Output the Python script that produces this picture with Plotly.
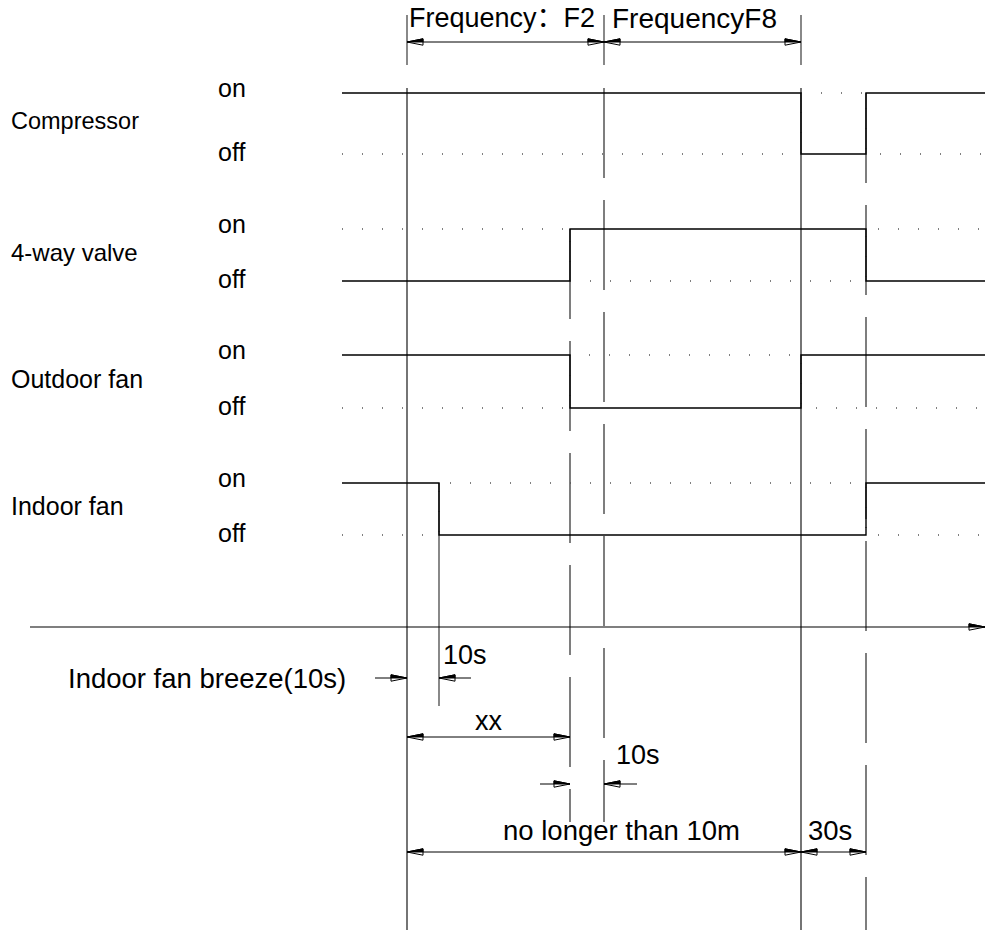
import plotly.graph_objects as go

# time axis: instants (drawing units) where something changes
t = [342, 407, 439, 570, 604, 801, 866, 985]
signals = ["Compressor", "4-way valve", "Outdoor fan", "Indoor fan"]
# state of each signal in the intervals between the instants above (1 = on)
compressor = [1, 1, 1, 1, 1, 0, 1]
valve = [0, 0, 0, 1, 1, 1, 0]
outdoor_fan = [1, 1, 1, 0, 0, 1, 1]
indoor_fan = [1, 1, 0, 0, 0, 0, 1]
states = [compressor, valve, outdoor_fan, indoor_fan]

# dimension annotations: (start index, end index, label)
freq_dims = [(1, 4, "Frequency：F2"), (4, 5, "FrequencyF8")]
run_dims = [(1, 5, "no longer than 10m"), (5, 6, "30s")]

# --- layout constants (pixels on a 991 x 930 sheet) ---
W, H = 991, 930
on_y = [93, 229, 355, 483]
off_y = [154, 281, 408, 535]
axis_y = 627
FONT = "Liberation Sans, Noto Sans CJK SC, Arial, sans-serif"
INK = "#000000"
GUIDE = "#3a3a3a"

fig = go.Figure()


def arrow(xtip, y, direction):
    # CAD style slender arrowhead: outline + upper half filled
    L, h = 16, 3.2
    xb = xtip - direction * L
    fig.add_trace(go.Scatter(x=[xtip, xb, xb, xtip], y=[y, y - h, y + h, y],
                             mode="lines", fill="toself", fillcolor="white",
                             line=dict(color=INK, width=1), hoverinfo="skip"))
    fig.add_trace(go.Scatter(x=[xtip, xb, xb, xtip], y=[y, y - h, y, y],
                             mode="lines", fill="toself", fillcolor=INK,
                             line=dict(color=INK, width=1), hoverinfo="skip"))


def seg(x0, y0, x1, y1, color=INK, width=1.2, dash=None):
    fig.add_shape(type="line", x0=x0, y0=y0, x1=x1, y1=y1, xref="x", yref="y",
                  line=dict(color=color, width=width, dash=dash), layer="below")


def text(x, y, s, size=25, anchor="left"):
    fig.add_annotation(x=x, y=y, text=s, showarrow=False, xanchor=anchor,
                       yanchor="middle", font=dict(family=FONT, size=size, color=INK))


# vertical guides
long_dash = "90px,22px"
seg(t[1], 15, t[1], 65, GUIDE)
seg(t[1], 88, t[1], H, GUIDE, 1.4)
seg(t[2], on_y[3], t[2], 706, GUIDE)
seg(t[3], on_y[1], t[3], 822, GUIDE, 1.3, long_dash)
seg(t[4], 15, t[4], 65, GUIDE)
seg(t[4], 88, t[4], 822, GUIDE, 1.3, long_dash)
seg(t[5], 15, t[5], 65, GUIDE)
seg(t[5], 88, t[5], H, GUIDE, 1.4)
seg(t[6], on_y[0], t[6], H, GUIDE, 1.3, long_dash)

# signal rails: dotted for the idle level, solid step for the actual state
label_sizes = [23.5, 24, 25, 25]
for name, st, yon, yoff, fs in zip(signals, states, on_y, off_y, label_sizes):
    lvl = [yon if s else yoff for s in st]
    idle = [yoff if s else yon for s in st]
    fig.add_trace(go.Scatter(x=t, y=idle + idle[-1:], mode="lines", line_shape="hv",
                             line=dict(color="#555", width=1.3, dash="1px,19px"),
                             hoverinfo="skip"))
    fig.add_trace(go.Scatter(x=t, y=lvl + lvl[-1:], mode="lines", line_shape="hv",
                             line=dict(color=INK, width=1.4), hoverinfo="skip"))
    text(9, (yon + yoff) / 2 - 3, name, fs)
    text(216, yon - 5, "on", 25)
    text(216, yoff - 2, "off", 25)

# time axis
fig.add_trace(go.Scatter(x=[30, t[-1]], y=[axis_y, axis_y], mode="lines",
                         line=dict(color=INK, width=1.2), hoverinfo="skip"))
arrow(t[-1], axis_y, 1)

# frequency dimensions on top
for i0, i1, lab in freq_dims:
    fig.add_trace(go.Scatter(x=[t[i0], t[i1]], y=[42, 42], mode="lines",
                             line=dict(color=INK, width=1), hoverinfo="skip"))
    arrow(t[i0], 42, -1)
    arrow(t[i1], 42, 1)
text((t[1] + t[4]) / 2 - 4, 18, freq_dims[0][2], 27, "center")
text((t[4] + t[5]) / 2 - 8, 18, freq_dims[1][2], 28, "center")

# indoor fan breeze (10s) - outside arrows
y = 678
fig.add_trace(go.Scatter(x=[t[1] - 32, t[1], None, t[2], t[2] + 32], y=[y, y, None, y, y],
                         mode="lines", line=dict(color=INK, width=1), hoverinfo="skip"))
arrow(t[1], y, 1)
arrow(t[2], y, -1)
text(t[2] + 2, 655, "10s", 27)
text(66, y, "Indoor fan breeze(10s)", 27.5)

# xx
y = 737
fig.add_trace(go.Scatter(x=[t[1], t[3]], y=[y, y], mode="lines",
                         line=dict(color=INK, width=1), hoverinfo="skip"))
arrow(t[1], y, -1)
arrow(t[3], y, 1)
text((t[1] + t[3]) / 2, 721, "xx", 27, "center")

# 10s between valve switch and F2 end
y = 784
fig.add_trace(go.Scatter(x=[t[3] - 30, t[3], None, t[4], t[4] + 33], y=[y, y, None, y, y],
                         mode="lines", line=dict(color=INK, width=1), hoverinfo="skip"))
arrow(t[3], y, 1)
arrow(t[4], y, -1)
text(t[4] + 10, 755, "10s", 27)

# run-time dimensions at the bottom
for i0, i1, lab in run_dims:
    fig.add_trace(go.Scatter(x=[t[i0], t[i1]], y=[852, 852], mode="lines",
                             line=dict(color=INK, width=1), hoverinfo="skip"))
    arrow(t[i0], 852, -1)
    arrow(t[i1], 852, 1)
text(621, 830, run_dims[0][2], 27.5, "center")
text(830, 830, run_dims[1][2], 27.5, "center")

fig.update_layout(
    width=W, height=H,
    margin=dict(l=0, r=0, t=0, b=0),
    paper_bgcolor="white", plot_bgcolor="white",
    showlegend=False,
    xaxis=dict(range=[0, W], visible=False, fixedrange=True),
    yaxis=dict(range=[H, 0], visible=False, fixedrange=True),
)

# drop the browser's default page margin so the sheet sits at (0, 0)
fig.write_html("out.html", post_script="document.body.style.margin='0';",
               config={"displayModeBar": False})
